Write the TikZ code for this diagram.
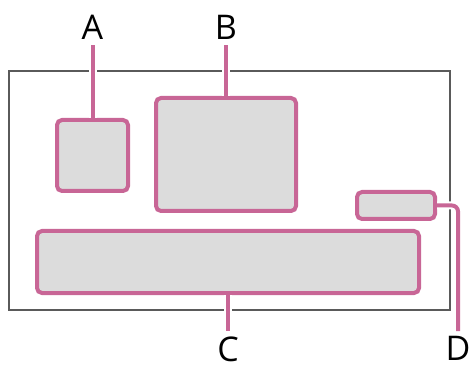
\documentclass[tikz,border=0pt]{standalone}
\usepackage{fontspec}
\setmainfont{Open Sans}
\definecolor{callout}{RGB}{200,102,150}
\definecolor{panel}{RGB}{220,220,220}
\definecolor{frameline}{RGB}{90,90,90}
\tikzset{
  area/.style={draw=callout,fill=panel,line width=2pt,rounded corners=2.5pt,inner sep=0pt},
  leader/.style={draw=callout,line width=2pt,preaction={draw=white,line width=4pt}},
  tag/.style={inner sep=2.5pt,font=\fontsize{17}{19}\selectfont}
}
\begin{document}
\begin{tikzpicture}[x=0.5pt,y=-0.5pt]
  \useasboundingbox (0,0) rectangle (469,367);
  % screen outline
  \draw[frameline,line width=1pt] (9,71) rectangle (450,310);
  % display areas
  \node[area,minimum width=35.5pt,minimum height=35.5pt] (boxA) at (92.5,155.5) {};
  \node[area,minimum width=70pt,minimum height=56.5pt] (boxB) at (226,154.5) {};
  \node[area,minimum width=39pt,minimum height=13.5pt] (boxD) at (396,205.5) {};
  \node[area,minimum width=191pt,minimum height=31pt] (boxC) at (228,262) {};
  % callout letters
  \node[tag,anchor=south] (labA) at (92.5,45) {A};
  \node[tag,anchor=south] (labB) at (226,45) {B};
  \node[tag,anchor=north] (labC) at (228,331) {C};
  \node[tag,anchor=north] (labD) at (458,331) {D};
  % leader lines
  \draw[leader] (boxA.north) -- (labA.south);
  \draw[leader] (boxB.north) -- (labB.south);
  \draw[leader] (boxC.south) -- (labC.north);
  \draw[leader,rounded corners=3pt] (boxD.east) -| (labD.north);
\end{tikzpicture}
\end{document}
